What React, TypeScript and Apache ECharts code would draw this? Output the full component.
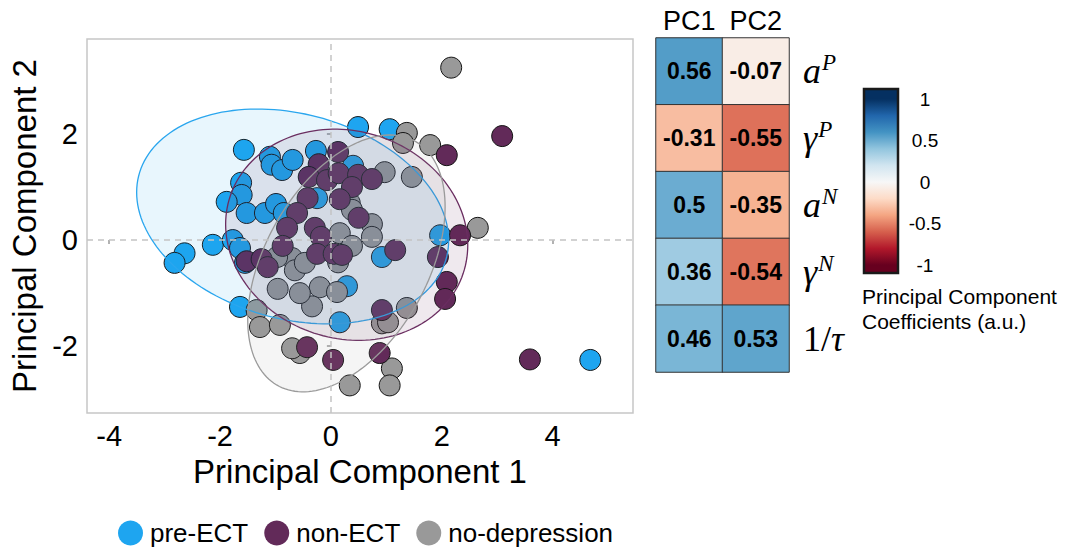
import React, { useEffect, useRef } from "react";
import * as echarts from "echarts";

const FONT = "'Liberation Sans', Arial, Helvetica, sans-serif";
const SERIF = "'Liberation Serif', 'DejaVu Serif', serif";

// ---------- data ----------
const groupNames = ["pre-ECT", "non-ECT", "no-depression"];
const groupColors = ["#1ea5f0", "#622a59", "#999999"];
const ellipseStroke = ["#2aa6ee", "#6a2d60", "#9a9a9a"];

const preECT: number[][] = [
  [-1.57, 1.7], [-1.1, 1.57], [-1.07, 1.42], [-0.88, 1.32], [-0.69, 1.51],
  [-0.27, 1.68], [-1.62, 1.08], [-1.61, 0.85], [-1.88, 0.72], [-1.52, 0.51],
  [-1.19, 0.51], [-0.99, 0.68], [-0.85, 0.51], [0.49, 2.13], [1.06, 2.09],
  [0.4, 1.4], [-0.25, 0.79], [-2.13, -0.09], [-1.77, 0.0], [-1.64, -0.15],
  [-2.64, -0.25], [-2.82, -0.43], [-1.55, -0.43], [-1.64, -1.26], [0.16, -1.55],
  [0.29, -0.87], [1.97, 0.09], [0.92, -0.32], [4.68, -2.26],
];

const nonECT: number[][] = [
  [3.09, 1.96], [2.09, 1.6], [0.13, 1.66], [-0.22, 1.43], [-0.4, 1.19],
  [-0.07, 1.13], [0.14, 1.26], [0.49, 1.23], [0.74, 1.15], [0.38, 1.0],
  [0.16, 0.77], [-0.42, 0.79], [-0.61, 0.51], [-0.79, 0.23], [-0.29, 0.23],
  [-0.18, 0.06], [-0.87, -0.11], [-0.25, -0.26], [0.05, -0.26], [0.2, -0.28],
  [0.5, 0.42], [-1.52, -0.4], [-1.25, -0.36], [-1.14, -0.51], [1.16, -0.19],
  [0.92, -1.32], [1.93, -0.32], [2.09, -0.79], [2.06, -1.11], [2.33, 0.09],
  [-0.43, -2.02], [0.04, -2.26], [0.88, -2.13], [3.59, -2.25],
];

const noDepression: number[][] = [
  [2.17, 3.25], [1.37, 2.02], [1.3, 1.83], [1.79, 1.79], [0.97, 1.28],
  [1.46, 1.19], [0.34, 0.7], [0.74, 0.3], [2.65, 0.23], [0.74, 0.06],
  [0.16, 0.13], [0.38, -0.11], [0.13, -0.42], [-0.2, -0.89], [-0.34, -1.25],
  [0.11, -0.98], [1.37, -1.28], [0.92, -1.57], [1.03, -1.55], [1.1, -2.42],
  [1.06, -2.74], [0.34, -2.74], [-0.56, -2.13], [-0.7, -2.04], [-0.7, -0.34],
  [-0.65, -0.57], [-0.47, -0.43], [-0.96, -0.92], [-0.56, -1.0], [-0.97, -0.32],
  [-1.34, -1.32], [-1.28, -1.64], [-0.92, -1.6], [0.38, 0.57],
];

// ellipse centre and spread (var x, var y, cov xy) per group
const ellipseCenters: number[][] = [[-0.69, 0.445], [0.285, 0.1], [0.28, -0.44]];
const ellipseSpread: number[][] = [[7.92, 4.1, -1.28], [4.77, 3.96, -0.43], [3.17, 5.86, 1.9]];

const xTicks = [-4, -2, 0, 2, 4];
const yTicks = [-2, 0, 2];

const pcNames = ["PC1", "PC2"];
const coefRowBase = ["a", "γ", "a", "γ", "1/τ"];
const coefRowSup = ["P", "P", "N", "N", ""];
const pc1Coef = [0.56, -0.31, 0.5, 0.36, 0.46];
const pc2Coef = [-0.07, -0.55, -0.35, -0.54, 0.53];
const colorbarTicks = [1, 0.5, 0, -0.5, -1];

const rdbu = [
  "#67001f", "#b2182b", "#d6604d", "#f4a582", "#fddbc7", "#f7f7f7",
  "#d1e5f0", "#92c5de", "#4393c3", "#2166ac", "#053061",
];

// ---------- helpers ----------
function ellipsePoints(c: number[], s: number[], n = 160): number[][] {
  const l11 = Math.sqrt(s[0]);
  const l21 = s[2] / l11;
  const l22 = Math.sqrt(s[1] - l21 * l21);
  const pts: number[][] = [];
  for (let i = 0; i < n; i++) {
    const t = (2 * Math.PI * i) / n;
    pts.push([c[0] + l11 * Math.cos(t), c[1] + l21 * Math.cos(t) + l22 * Math.sin(t)]);
  }
  return pts;
}

function hexToRgba(hex: string, a: number) {
  const r = parseInt(hex.slice(1, 3), 16);
  const g = parseInt(hex.slice(3, 5), 16);
  const b = parseInt(hex.slice(5, 7), 16);
  return `rgba(${r},${g},${b},${a})`;
}

export default function App() {
  const ref = useRef<HTMLDivElement>(null);

  useEffect(() => {
    if (!ref.current) return;
    const chart = echarts.init(ref.current, undefined, { renderer: "svg" });

    const groups = [preECT, nonECT, noDepression];
    const drawOrder = [0, 2, 1];
    const rowCats = coefRowBase.map((b, i) => b + coefRowSup[i]);

    const heatData: any[] = [];
    rowCats.forEach((_, r) => {
      heatData.push([0, r, pc1Coef[r]]);
      heatData.push([1, r, pc2Coef[r]]);
    });

    const series: any[] = [];
    // zero reference lines
    series.push({
      type: "line",
      xAxisIndex: 0,
      yAxisIndex: 0,
      data: [],
      z: 1,
      silent: true,
      markLine: {
        silent: true,
        symbol: "none",
        label: { show: false },
        lineStyle: { color: "#c4c4c4", type: [6, 5], width: 1.5 },
        data: [{ xAxis: 0 }, { yAxis: 0 }],
      },
    });
    drawOrder.forEach((g) => {
      series.push({
        type: "scatter",
        name: groupNames[g],
        xAxisIndex: 0,
        yAxisIndex: 0,
        data: groups[g],
        symbol: "circle",
        symbolSize: 21,
        z: 2,
        itemStyle: { color: groupColors[g], borderColor: "#151515", borderWidth: 1, opacity: 1 },
      });
    });
    [0, 1, 2].forEach((g) => {
      series.push({
        type: "custom",
        name: "ellipse-" + groupNames[g],
        xAxisIndex: 0,
        yAxisIndex: 0,
        z: 3,
        silent: true,
        data: [ellipseCenters[g]],
        renderItem: (_p: any, api: any) => {
          const pts = ellipsePoints(ellipseCenters[g], ellipseSpread[g]).map((p) => api.coord(p));
          return {
            type: "polygon",
            shape: { points: pts },
            style: {
              fill: hexToRgba(groupColors[g], 0.1),
              stroke: ellipseStroke[g],
              lineWidth: 1.3,
            },
          };
        },
      });
    });
    const heatIndex = series.length;
    series.push({
      type: "heatmap",
      xAxisIndex: 1,
      yAxisIndex: 1,
      data: heatData,
      label: {
        show: true,
        formatter: (p: any) => String(p.value[2]),
        fontSize: 23,
        fontWeight: "bold",
        color: "#000",
        fontFamily: FONT,
      },
      itemStyle: { borderColor: "#333", borderWidth: 1 },
    });

    // colorbar geometry
    const barX = 864, barY = 89, barW = 34, barH = 184;
    const tickTopY = 99, tickBotY = 265;
    const vAt = (y: number) => 1 - ((y - tickTopY) / (tickBotY - tickTopY)) * 2;
    const vTop = vAt(barY), vBot = vAt(barY + barH);
    const stops = rdbu
      .map((c, i) => {
        const v = -1 + (i * 2) / (rdbu.length - 1);
        return { offset: (vTop - v) / (vTop - vBot), color: c };
      })
      .reverse();
    const gradStops = stops.map((s) => ({ offset: Math.min(1, Math.max(0, s.offset)), color: s.color }));

    const graphics: any[] = [
      {
        type: "rect",
        shape: { x: barX, y: barY, width: barW, height: barH },
        style: {
          fill: new echarts.graphic.LinearGradient(0, 0, 0, 1, gradStops),
          stroke: "#1a1a1a",
          lineWidth: 2.5,
        },
      },
      ...colorbarTicks.map((t) => ({
        type: "text",
        x: 925,
        y: tickTopY + ((1 - t) / 2) * (tickBotY - tickTopY),
        style: {
          text: String(t),
          fontSize: 19,
          fontFamily: FONT,
          fill: "#000",
          align: "center",
          verticalAlign: "middle",
        },
      })),
      {
        type: "text",
        x: 862,
        y: 284,
        style: {
          text: "Principal Component\nCoefficients (a.u.)",
          fontSize: 21,
          lineHeight: 25,
          fontFamily: FONT,
          fill: "#000",
          align: "left",
          verticalAlign: "top",
        },
      },
    ];

    chart.setOption({
      animation: false,
      textStyle: { fontFamily: FONT },
      grid: [
        {
          left: 87, top: 39, width: 546, height: 374,
          show: true, borderColor: "#c6c6c6", borderWidth: 1.5, backgroundColor: "#fff",
        },
        { left: 656, top: 38, width: 133, height: 334 },
      ],
      xAxis: [
        {
          gridIndex: 0,
          type: "value",
          min: -4.4,
          max: 5.45,
          name: "Principal Component 1",
          nameLocation: "middle",
          nameGap: 38,
          nameTextStyle: { fontSize: 33, color: "#000", fontFamily: FONT },
          axisLine: { show: false },
          axisTick: { show: true, length: 4, lineStyle: { color: "#999", width: 1.5 }, customValues: xTicks },
          axisLabel: { fontSize: 29, color: "#000", margin: 8, fontFamily: FONT, customValues: xTicks },
          splitLine: { show: false },
        },
        {
          gridIndex: 1,
          type: "category",
          data: pcNames,
          position: "top",
          axisLine: { show: false },
          axisTick: { show: false },
          axisLabel: { interval: 0, hideOverlap: false, fontSize: 27, color: "#000", margin: 4, fontFamily: FONT },
          splitArea: { show: false },
        },
      ],
      yAxis: [
        {
          gridIndex: 0,
          type: "value",
          min: -3.26,
          max: 3.79,
          name: "Principal Component 2",
          nameLocation: "middle",
          nameGap: 44,
          nameTextStyle: { fontSize: 33, color: "#000", fontFamily: FONT },
          axisLine: { show: false },
          axisTick: { show: true, length: 4, lineStyle: { color: "#999", width: 1.5 }, customValues: yTicks },
          axisLabel: { fontSize: 29, color: "#000", margin: 9, fontFamily: FONT, customValues: yTicks },
          splitLine: { show: false },
        },
        {
          gridIndex: 1,
          type: "category",
          data: rowCats,
          inverse: true,
          position: "right",
          axisLine: { show: false },
          axisTick: { show: false },
          axisLabel: {
            interval: 0,
            margin: 14,
            align: "left",
            formatter: (_v: string, idx: number) => {
              const base = coefRowBase[idx];
              const sup = coefRowSup[idx];
              if (sup) return `{m|${base}}{s|${sup}}`;
              const k = base.lastIndexOf("/");
              return `{r|${base.slice(0, k + 1)}}{m|${base.slice(k + 1)}}`;
            },
            rich: {
              m: { fontFamily: SERIF, fontStyle: "italic", fontSize: 36, color: "#000" },
              r: { fontFamily: SERIF, fontSize: 36, color: "#000" },
              s: { fontFamily: SERIF, fontStyle: "italic", fontSize: 23, color: "#000", padding: [0, 0, 17, 1] },
            },
          },
          splitArea: { show: false },
        },
      ],
      visualMap: {
        type: "continuous",
        min: -1,
        max: 1,
        show: false,
        seriesIndex: heatIndex,
        inRange: { color: rdbu },
      },
      legend: {
        data: groupNames,
        left: 118,
        top: 519,
        padding: 0,
        icon: "circle",
        itemWidth: 25,
        itemHeight: 25,
        itemGap: 16,
        itemStyle: { borderWidth: 0 },
        textStyle: { fontSize: 26, lineHeight: 28, color: "#000", fontFamily: FONT, padding: [0, 0, 0, 2] },
      },
      graphic: graphics,
      series,
    });

    return () => chart.dispose();
  }, []);

  return (
    <div
      ref={ref}
      style={{ position: "absolute", left: 0, top: 0, width: 1066, height: 549, background: "#fff" }}
    />
  );
}
